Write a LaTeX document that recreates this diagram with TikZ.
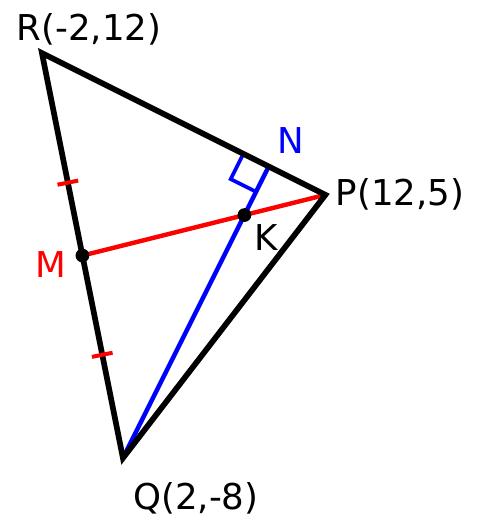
\documentclass[tikz,border=0pt]{standalone}
\usepackage{fontspec}
\setmainfont{DejaVu Sans}
\usepackage{tikz}
\usetikzlibrary{positioning,calc}
\tikzset{
    side/.style={draw=black, line width=4pt},
    median/.style={draw=red, line width=3.1pt},
    altitude/.style={draw=blue, line width=3.1pt},
    rightmark/.style={draw=blue, line width=2.6pt},
    tickmark/.style={draw=red, line width=2.8pt},
    ptlabel/.style={font=\fontsize{25}{30}\selectfont, inner sep=0pt, anchor=base},
    dot/.style={circle, fill=black, inner sep=0pt, minimum size=3.4mm}
}

\begin{document}
\begin{tikzpicture}[x=0.5cm, y=0.5cm]
    \useasboundingbox (-4.07,-10.91) rectangle (19.63,14.62);

    \coordinate (R) at (-2,12);
    \coordinate (P) at (12,5);
    \coordinate (Q) at (2,-8);
    \coordinate (M) at (0,2);
    \coordinate (N) at (9.2,6.4);
    \coordinate (K) at (8,4);

    % right angle at N
    \coordinate (Na) at ($(N)!0.7cm!(R)$);
    \coordinate (Nb) at ($(N)!0.7cm!(Q)$);
    \draw[rightmark] (Na) -- ($(Na)+(Nb)-(N)$) -- (Nb);

    \draw[altitude] (Q) -- (N);
    \draw[median] (M) -- (P);
    \draw[side] (R) -- (P) -- (Q) -- cycle;

    % equal parts of RQ
    \coordinate (T1) at ($(M)!0.36!(R)$);
    \coordinate (T2) at ($(M)!0.49!(Q)$);
    \draw[tickmark] ($(T1)!0.26cm!90:(R)$) -- ($(T1)!0.26cm!-90:(R)$);
    \draw[tickmark] ($(T2)!0.26cm!90:(Q)$) -- ($(T2)!0.26cm!-90:(Q)$);

    \node[dot] (m) at (M) {};
    \node[dot] (k) at (K) {};

    \node[ptlabel] (r) at (0.32,12.64) {R(-2,12)};
    \node[ptlabel] (p) at (15.68,4.49) {P(12,5)};
    \node[ptlabel] (q) at (5.6,-10.55) {Q(2,-8)};
    \node[ptlabel, text=blue] (n) at (10.30,7.06) {N};
    \node[ptlabel] (kl) at (9.06,2.27) {K};
    \node[ptlabel, text=red] (ml) at (-1.56,0.94) {M};
\end{tikzpicture}
\end{document}
